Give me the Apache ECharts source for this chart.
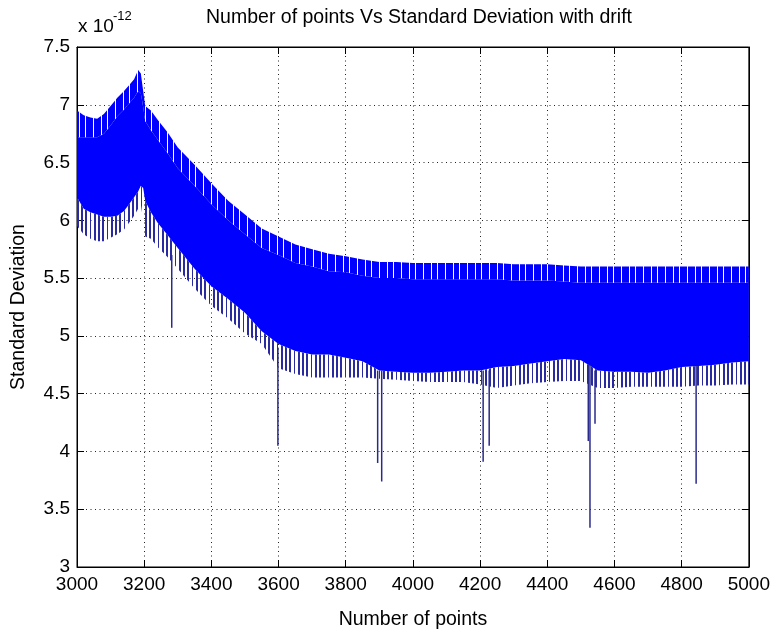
<!DOCTYPE html>
<html>
<head>
<meta charset="utf-8">
<script src="https://cdn.jsdelivr.net/npm/echarts@6/dist/echarts.min.js"></script>
<style>
html,body{margin:0;padding:0;background:#fff;}
#chart{width:773px;height:635px;}
</style>
</head>
<body>
<div id="chart"></div>
<script>
// ---- Data (values in units of 1e-12) ----
var xs = [3000,3020,3040,3060,3080,3100,3120,3140,3155,3170,3182,3190,3197,3203,3220,3240,3270,3300,3350,3400,3450,3500,3550,3600,3650,3700,3750,3800,3850,3900,3950,4000,4050,4100,4150,4200,4250,4300,4350,4400,4450,4500,4550,4600,4650,4700,4750,4800,4850,4900,4950,5000];
// upper edge of the oscillation band
var bandTop = [6.95,6.91,6.89,6.88,6.92,6.99,7.06,7.12,7.17,7.22,7.30,7.27,7.12,6.99,6.95,6.87,6.76,6.63,6.48,6.32,6.17,6.05,5.93,5.86,5.79,5.75,5.71,5.69,5.66,5.64,5.64,5.63,5.63,5.63,5.63,5.63,5.63,5.62,5.62,5.62,5.61,5.60,5.60,5.60,5.60,5.60,5.60,5.60,5.60,5.60,5.60,5.60];
// depth reached by the notches cut into the upper edge
var topInner = [6.72,6.72,6.72,6.72,6.75,6.82,6.90,6.96,7.01,7.06,7.12,7.10,6.98,6.86,6.78,6.70,6.58,6.45,6.30,6.14,6.00,5.88,5.76,5.70,5.63,5.60,5.56,5.55,5.52,5.50,5.50,5.49,5.49,5.49,5.49,5.49,5.49,5.48,5.48,5.48,5.47,5.46,5.46,5.46,5.46,5.46,5.46,5.46,5.46,5.46,5.46,5.46];
// lower edge of the solid part of the band
var coreBottom = [6.20,6.10,6.07,6.05,6.03,6.03,6.04,6.08,6.14,6.20,6.25,6.30,6.28,6.17,6.07,5.98,5.87,5.76,5.58,5.43,5.32,5.20,5.04,4.93,4.87,4.84,4.84,4.81,4.78,4.70,4.69,4.68,4.68,4.69,4.70,4.70,4.73,4.74,4.76,4.78,4.80,4.79,4.70,4.69,4.69,4.68,4.70,4.73,4.74,4.75,4.77,4.78];
// tips of the teeth hanging below the band
var toothBottom = [5.95,5.88,5.84,5.82,5.82,5.85,5.88,5.92,5.98,6.04,6.10,6.14,6.00,5.86,5.84,5.77,5.68,5.58,5.41,5.26,5.15,5.02,4.93,4.72,4.67,4.64,4.64,4.64,4.64,4.63,4.62,4.61,4.60,4.60,4.60,4.58,4.55,4.57,4.59,4.60,4.61,4.61,4.55,4.55,4.56,4.56,4.56,4.56,4.57,4.57,4.58,4.58];
// isolated downward spikes
var spikeX    = [3282,3598,3895,3907,4209,4227,4522,4527,4542,4843];
var spikeFrom = [5.70,4.90,4.70,4.70,4.70,4.70,4.75,4.75,4.70,4.74];
var spikeTo   = [5.07,4.05,3.90,3.74,3.91,4.05,4.09,3.34,4.24,3.72];
// axes
var xTicks = {min:3000, max:5000, interval:200};
var yTicks = {min:3, max:7.5, interval:0.5};

var FONT = '"Liberation Sans", Arial, sans-serif';

// stripe texture: columns = list of [start, width] painted with fg over bg
function stripes(w, fg, cols, bg){
  var c = document.createElement('canvas');
  c.width = w; c.height = 4;
  var g = c.getContext('2d');
  if (bg){ g.fillStyle = bg; g.fillRect(0,0,w,4); }
  g.fillStyle = fg;
  cols.forEach(function(cl){ g.fillRect(cl[0],0,cl[1],4); });
  return c;
}
var lowPattern = {image: stripes(17,'#2a2aa0',[[0,2],[5,1],[9,2],[13,2]],null), repeat:'repeat'};
var topPattern = {image: stripes(22,'#ffffff',[[5,1],[13,1],[19,1]],'#0000ff'), repeat:'repeat'};

// a filled band between two of the arrays above, drawn through the axes' scales
function bandSeries(name, upper, lower, fill){
  return {name:name, type:'custom', clip:true, silent:true, animation:false,
    encode:{x:0, y:1},
    data:[[xs[0], lower[0]], [xs[xs.length-1], upper[upper.length-1]]],
    renderItem:function(params, api){
      if (params.dataIndex !== 0) return null;
      var pts = [];
      for (var i = 0; i < xs.length; i++) pts.push(api.coord([xs[i], upper[i]]));
      for (var j = xs.length - 1; j >= 0; j--) pts.push(api.coord([xs[j], lower[j]]));
      return {type:'polygon', shape:{points:pts}, style:{fill:fill, stroke:null}};
    }};
}

var chart = echarts.init(document.getElementById('chart'), null, {renderer:'canvas'});
chart.setOption({
  backgroundColor:'#ffffff',
  animation:false,
  title:{text:'Number of points Vs Standard Deviation with drift', left:414, textAlign:'center', top:3,
    textStyle:{fontFamily:FONT, fontSize:19.5, fontWeight:'normal', color:'#000'}},
  grid:{left:77, right:23, top:47, bottom:58, show:true, borderColor:'#000', borderWidth:1, backgroundColor:'transparent'},
  xAxis:[{type:'value', min:xTicks.min, max:xTicks.max, interval:xTicks.interval, position:'bottom',
      name:'Number of points', nameLocation:'middle', nameGap:43,
      nameTextStyle:{fontFamily:FONT, fontSize:19.5, color:'#000'},
      axisLine:{show:true, lineStyle:{color:'#000', width:1}},
      axisTick:{show:true, inside:true, length:7, lineStyle:{color:'#000'}},
      axisLabel:{fontFamily:FONT, fontSize:19, color:'#000', margin:8, formatter:function(v){return String(v);}},
      splitLine:{show:true, lineStyle:{color:'#222', type:[1,3.5], width:1}}},
    {type:'value', min:xTicks.min, max:xTicks.max, interval:xTicks.interval, position:'top',
      axisLine:{show:true, lineStyle:{color:'#000'}},
      axisTick:{show:true, inside:true, length:7, lineStyle:{color:'#000'}},
      axisLabel:{show:false}, splitLine:{show:false}}],
  yAxis:[{type:'value', min:yTicks.min, max:yTicks.max, interval:yTicks.interval, position:'left',
      name:'Standard Deviation', nameLocation:'middle', nameGap:48,
      nameTextStyle:{fontFamily:FONT, fontSize:19.5, color:'#000'},
      axisLine:{show:true, lineStyle:{color:'#000', width:1}},
      axisTick:{show:true, inside:true, length:7, lineStyle:{color:'#000'}},
      axisLabel:{fontFamily:FONT, fontSize:19, color:'#000', margin:7},
      splitLine:{show:true, lineStyle:{color:'#222', type:[1,3.5], width:1}}},
    {type:'value', min:yTicks.min, max:yTicks.max, interval:yTicks.interval, position:'right',
      axisLine:{show:true, lineStyle:{color:'#000'}},
      axisTick:{show:true, inside:true, length:7, lineStyle:{color:'#000'}},
      axisLabel:{show:false}, splitLine:{show:false}}],
  graphic:[
    {type:'text', left:78, top:17, style:{text:'x 10', font:'19px "Liberation Sans", Arial, sans-serif', fill:'#000'}},
    {type:'text', left:113, top:10, style:{text:'-12', font:'13px "Liberation Sans", Arial, sans-serif', fill:'#000'}}
  ],
  series:[
    bandSeries('teeth', coreBottom, toothBottom, lowPattern),
    bandSeries('core', topInner, coreBottom, '#0000ff'),
    bandSeries('notches', bandTop, topInner, topPattern),
    {name:'spikes', type:'custom', clip:true, silent:true, animation:false,
      encode:{x:0, y:[1,2]},
      data: spikeX.map(function(x,i){ return [x, spikeFrom[i], spikeTo[i]]; }),
      renderItem:function(params, api){
        var p1 = api.coord([api.value(0), api.value(1)]);
        var p2 = api.coord([api.value(0), api.value(2)]);
        return {type:'line', shape:{x1:p1[0], y1:p1[1], x2:p2[0], y2:p2[1]},
          style:{stroke:'#2a2a8c', lineWidth:1.5}};
      }}
  ]
});
</script>
</body>
</html>
